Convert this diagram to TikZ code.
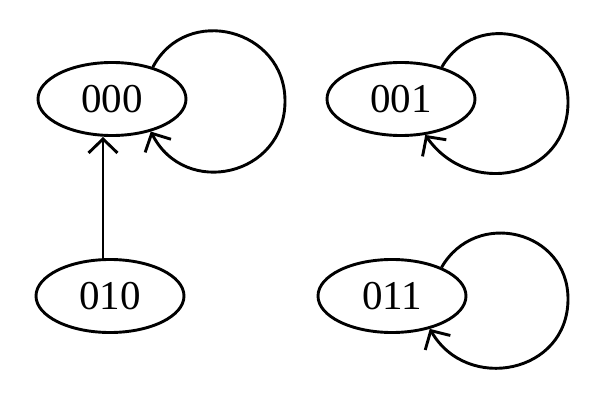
\documentclass[tikz,border=0pt]{standalone}
\usepackage{fontspec}
\setmainfont{Liberation Serif}
\usetikzlibrary{arrows.meta,shapes.geometric}
\begin{document}
\begin{tikzpicture}[x=1pt,y=1pt,
  state/.style={draw,ellipse,line width=2.9pt,minimum width=148pt,minimum height=73pt,inner sep=0pt,font=\fontsize{41}{44}\selectfont},
  arr/.style={line width=2.9pt,-{Straight Barb[length=14pt,width=29pt,line width=2.9pt]}}]
\useasboundingbox (0,0) rectangle (600,-401);
\node[state] (a) at (112,-99) {000};
\node[state] (b) at (401,-99) {001};
\node[state] (c) at (110,-296) {010};
\node[state] (d) at (392,-296) {011};
\coordinate (ar) at (285,-101);
\coordinate (br) at (568,-102);
\coordinate (dr) at (568,-299);
\draw[arr] ([xshift=-7pt]c.north) -- ([xshift=-9pt]a.south);
\draw[arr] (a.38) to[out=62,in=90,looseness=1.35] (ar) to[out=-90,in=-63,looseness=1.4] (a.-40);
\draw[arr] (b.38) to[out=60,in=90,looseness=1.35] (br) to[out=-90,in=-55,looseness=1.35] (b.-56);
\draw[arr] (d.30) to[out=60,in=90,looseness=1.35] (dr) to[out=-90,in=-60,looseness=1.35] (d.-41);
\end{tikzpicture}
\end{document}
